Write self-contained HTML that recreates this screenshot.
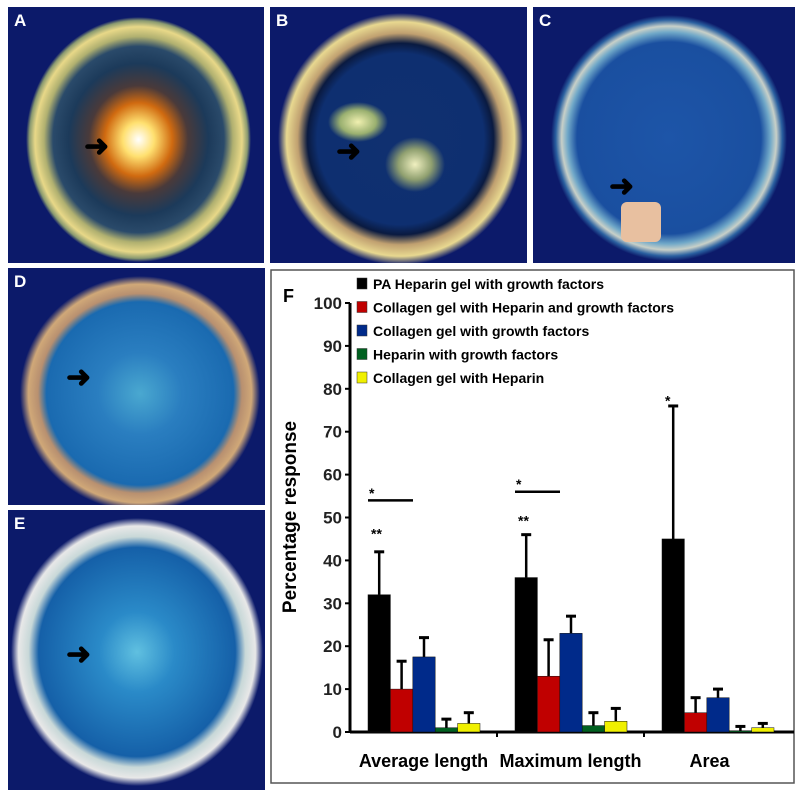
<!DOCTYPE html>
<html><head><meta charset="utf-8"><style>
body{margin:0;width:800px;height:802px;background:#fff;position:relative;overflow:hidden;font-family:"Liberation Sans",sans-serif}
.ph{position:absolute;background:#0c1a6a;overflow:hidden}
.ph .lbl{position:absolute;left:6px;top:4px;color:#fff;font-weight:bold;font-size:17px}
.eye{position:absolute;border-radius:50%}
.ar{position:absolute;font-size:30px;font-weight:bold;color:#000;line-height:1}
</style></head><body>
<div class="ph" style="left:8px;top:7px;width:256px;height:256px">
 <div class="eye" style="left:18px;top:10px;width:225px;height:245px;background:radial-gradient(closest-side,#fff 0,#ffe070 14%,#d06a10 30%,#4a3a3a 44%,#1c3a5a 62%,#2a4a6a 76%,#b0b070 84%,#e8d888 92%,#8a9a70 97%,rgba(12,26,106,0) 100%)"></div>
 <div class="lbl">A</div>
 <div class="ar" style="left:76px;top:125px">&#10140;</div>
</div>
<div class="ph" style="left:270px;top:7px;width:257px;height:256px">
 <div class="eye" style="left:8px;top:6px;width:245px;height:252px;background:radial-gradient(closest-side,#103070 0,#0e2f70 68%,#0a1a40 76%,#c0a070 84%,#e8d890 93%,rgba(12,26,106,0) 100%)"></div>
 <div class="eye" style="left:58px;top:95px;width:60px;height:40px;background:radial-gradient(closest-side,#f0f0b0,#9ab070 60%,rgba(0,0,0,0) 100%)"></div>
 <div class="eye" style="left:115px;top:130px;width:60px;height:55px;background:radial-gradient(closest-side,#f0f0c0,#90a070 55%,rgba(0,0,0,0) 100%)"></div>
 <div class="lbl">B</div>
 <div class="ar" style="left:66px;top:130px">&#10140;</div>
</div>
<div class="ph" style="left:533px;top:7px;width:262px;height:256px">
 <div class="eye" style="left:18px;top:8px;width:236px;height:246px;background:radial-gradient(closest-side,#1d55a8 0,#1a4fa0 78%,#70a8c8 86%,#c8d0c8 91%,#2a60a0 96%,rgba(12,26,106,0) 100%)"></div>
 <div style="position:absolute;left:88px;top:195px;width:40px;height:40px;background:#e8c0a0;border-radius:6px"></div>
 <div class="lbl">C</div>
 <div class="ar" style="left:76px;top:165px">&#10140;</div>
</div>
<div class="ph" style="left:8px;top:268px;width:257px;height:237px">
 <div class="eye" style="left:12px;top:8px;width:240px;height:235px;background:radial-gradient(closest-side,#4aa8d0 0,#2a7ec0 35%,#1a6ab0 78%,#b89070 85%,#d0a878 93%,rgba(26,58,144,0) 100%)"></div>
 <div class="lbl">D</div>
 <div class="ar" style="left:58px;top:95px">&#10140;</div>
</div>
<div class="ph" style="left:8px;top:510px;width:257px;height:280px">
 <div class="eye" style="left:3px;top:8px;width:252px;height:268px;border-radius:40%;background:radial-gradient(closest-side,#60c0e0 0,#2a8ac8 30%,#1560a8 78%,#c8d8d8 86%,#e8e8e8 94%,rgba(12,58,144,0) 100%)"></div>
 <div class="lbl">E</div>
 <div class="ar" style="left:58px;top:130px">&#10140;</div>
</div>
<svg id="chart" style="position:absolute;left:0;top:0" width="800" height="802">
 <rect x="271" y="270" width="523" height="513" fill="#fff" stroke="#555" stroke-width="1.5"/>
 <text x="283" y="302" font-size="18" font-weight="bold">F</text>
 <text transform="translate(296,517) rotate(-90)" text-anchor="middle" font-size="19" font-weight="bold">Percentage response</text>
 <g id="axes"></g><g id="bars"></g><g id="legend"></g>
</svg>
<script>
const categories=["Average length","Maximum length","Area"];
const seriesNames=["PA Heparin gel with growth factors","Collagen gel with Heparin and growth factors","Collagen gel with growth factors","Heparin with growth factors","Collagen gel with Heparin"];
const colors=["#000000","#c00000","#002a8a","#006020","#f0f000"];
const s0=[32,36,45];
const s1=[10,13,4.5];
const s2=[17.5,23,8];
const s3=[1,1.5,0.3];
const s4=[2,2.5,1];
const e0=[10,10,31];
const e1=[6.5,8.5,3.5];
const e2=[4.5,4,2];
const e3=[2,3,1];
const e4=[2.5,3,1];
const yTicks=[0,10,20,30,40,50,60,70,80,90,100];
const series=[s0,s1,s2,s3,s4], errs=[e0,e1,e2,e3,e4];
const NS="http://www.w3.org/2000/svg";
const y=v=>732-v*4.29;
const x0=350,groupW=147,barW=22.4,gOff=18;
const bx=(g,s)=>x0+g*groupW+gOff+s*barW;
function mk(t,a,p){const e=document.createElementNS(NS,t);for(const k in a)e.setAttribute(k,a[k]);p.appendChild(e);return e;}
const axes=document.getElementById('axes'),bars=document.getElementById('bars'),leg=document.getElementById('legend');
let l=mk('line',{x1:x0,y1:y(0),x2:794,y2:y(0),stroke:'#000','stroke-width':3},axes);


l=mk('line',{x1:x0,y1:y(0),x2:x0,y2:y(100),stroke:'#000','stroke-width':3},axes);


yTicks.forEach(v=>{mk('line',{x1:x0-5,y1:y(v),x2:x0,y2:y(v),stroke:'#000','stroke-width':2},axes);
 const t=mk('text',{x:x0-8,y:y(v)+6,'text-anchor':'end','font-size':17,'font-weight':'bold',fill:'#222'},axes);t.textContent=v;
 
 });
categories.forEach((c,g)=>{
 if(g>0)mk('line',{x1:x0+g*groupW,y1:y(0),x2:x0+g*groupW,y2:y(0)+5,stroke:'#000','stroke-width':2},axes);
 const t=mk('text',{x:x0+g*groupW+groupW/2+(g==2?-8:0),y:767,'text-anchor':'middle','font-size':18,'font-weight':'bold'},axes);t.textContent=c;
 
 
 series.forEach((s,i)=>{const X=bx(g,i);
  const r=mk('rect',{x:X,y:y(s[g]),width:barW,height:y(0)-y(s[g]),fill:colors[i],stroke:'#111','stroke-width':0.5},bars);
  
  
  const top=y(s[g]+errs[i][g]);
  mk('line',{x1:X+barW/2,y1:y(s[g]),x2:X+barW/2,y2:top,stroke:'#000','stroke-width':2.5},bars);
  mk('line',{x1:X+barW/2-5,y1:top,x2:X+barW/2+5,y2:top,stroke:'#000','stroke-width':3},bars);
 });
});
[[0,"**",47],[1,"**",50],[2,"*",78]].forEach(([g,s,v])=>{const t=mk('text',{x:bx(g,0)+3,y:y(v)+8,'font-size':14,'font-weight':'bold'},bars);t.textContent=s;
 
 });
[[0,56],[1,58]].forEach(([g,v])=>{const t=mk('text',{x:bx(g,0)+1,y:y(v)+6,'font-size':14,'font-weight':'bold'},bars);t.textContent="*";
 mk('line',{x1:bx(g,0),y1:y(v-2),x2:bx(g,0)+45,y2:y(v-2),stroke:'#000','stroke-width':2.5},bars);});
seriesNames.forEach((n,i)=>{const Y=289+i*23.5;
 const r=mk('rect',{x:357,y:Y-11,width:10,height:11,fill:colors[i],stroke:'#333','stroke-width':0.5},leg);
 
 
 const t=mk('text',{x:373,y:Y,'font-size':14,'font-weight':'bold'},leg);t.textContent=n;
 
 });
</script>
</body></html>
